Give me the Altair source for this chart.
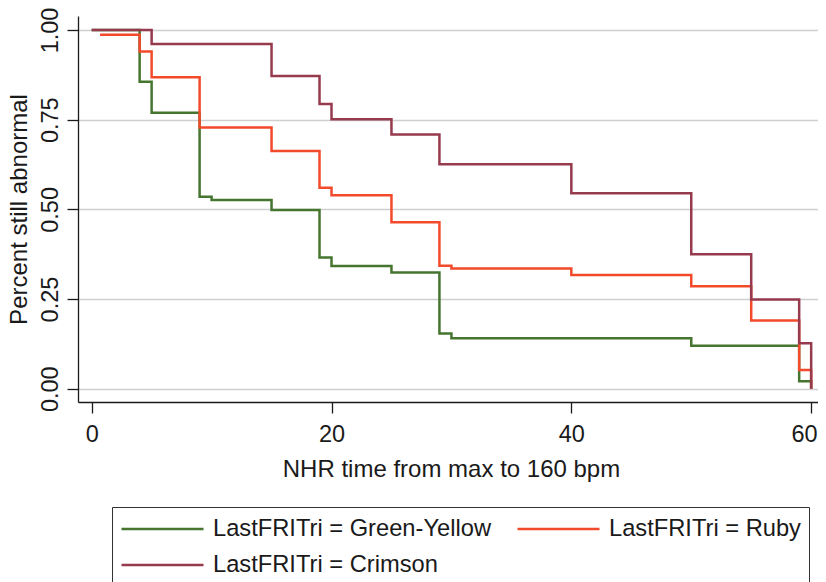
import altair as alt
import pandas as pd

# ---- data (Kaplan-Meier style step curves) ----
series_names = ["Green-Yellow", "Ruby", "Crimson"]

green_t = [0, 4, 5, 9, 10, 15, 19, 20, 25, 29, 30, 50, 59, 60]
green_s = [1.0, 0.856, 0.769, 0.535, 0.526, 0.498, 0.366, 0.342, 0.324, 0.154, 0.141, 0.120, 0.021, 0.0]

ruby_t = [0.7, 4, 5, 9, 15, 19, 20, 25, 29, 30, 40, 50, 55, 59, 60]
ruby_s = [0.987, 0.940, 0.868, 0.728, 0.663, 0.560, 0.539, 0.464, 0.343, 0.335, 0.317, 0.286, 0.190, 0.052, 0.0]

crimson_t = [0, 5, 15, 19, 20, 25, 29, 40, 50, 55, 59, 60]
crimson_s = [1.0, 0.961, 0.872, 0.794, 0.751, 0.709, 0.626, 0.545, 0.375, 0.249, 0.127, 0.0]

series_colors = ["#46752F", "#F24A2B", "#963A4E"]
x_ticks = [0, 20, 40, 60]
y_ticks = [0, 0.25, 0.5, 0.75, 1.0]

rows = []
for name, ts, ss in zip(series_names, [green_t, ruby_t, crimson_t], [green_s, ruby_s, crimson_s]):
    for t, s in zip(ts, ss):
        rows.append({"series": name, "t": t, "s": s})
df = pd.DataFrame(rows)

FONT = "Liberation Sans"
INK = "#1a1a1a"

chart = alt.Chart(df).mark_line(interpolate="step-after", strokeWidth=2.5).encode(
    x=alt.X(
        "t:Q",
        scale=alt.Scale(domain=[-1.14, 60.57], nice=False, zero=False),
        axis=alt.Axis(
            values=x_ticks, format="d", grid=False,
            title="NHR time from max to 160 bpm",
            tickSize=11, labelPadding=9,
            labelFlush=10, labelFlushOffset=6,
            titleY=74, titleX=373, titleBaseline="alphabetic",
        ),
    ),
    y=alt.Y(
        "s:Q",
        scale=alt.Scale(domain=[-0.037, 1.039], nice=False, zero=False),
        axis=alt.Axis(
            values=y_ticks, format=".2f", grid=True,
            title="Percent still abnormal",
            labelAngle=270, labelAlign="center", labelBaseline="alphabetic",
            labelPadding=10, tickSize=11,
            titleX=-52, titleY=193, titleAngle=270,
            titleAlign="center", titleBaseline="alphabetic",
        ),
    ),
    color=alt.Color(
        "series:N",
        sort=series_names,
        scale=alt.Scale(domain=series_names, range=series_colors),
        legend=alt.Legend(
            title=None, orient="none", legendX=34, legendY=491,
            direction="horizontal", columns=2,
            symbolType="stroke", symbolSize=6724, symbolStrokeWidth=2.5,
            labelExpr="'LastFRITri = ' + datum.label",
            labelFontSize=23.7, labelFont=FONT, labelColor=INK, labelLimit=500,
            labelOffset=8, clipHeight=28, rowPadding=8, columnPadding=25,
            padding=8, strokeColor="#333333",
        ),
    ),
).properties(
    width=740,
    height=386,
    padding={"left": 70, "top": 8, "right": 0, "bottom": 180},
    autosize=alt.AutoSizeParams(type="none"),
    background="white",
).configure_view(
    stroke=None
).configure_axis(
    labelFont=FONT, titleFont=FONT,
    labelFontSize=23.5, titleFontSize=24,
    labelColor=INK, titleColor=INK,
    titleFontWeight="normal",
    domainColor=INK, tickColor=INK, domainWidth=1.3, tickWidth=1.3,
    gridColor="#cfcfcf", gridWidth=1.5,
)

chart.save("out.html", embed_options={"renderer": "svg", "actions": False})
